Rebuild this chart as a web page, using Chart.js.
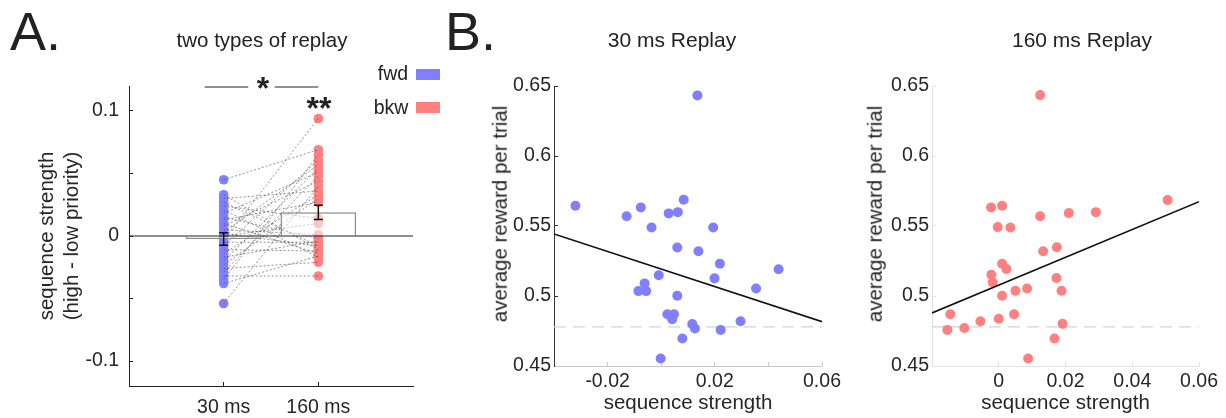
<!DOCTYPE html>
<html lang="en">
<head>
<meta charset="UTF-8">
<title>Replay sequence strength</title>
<script src="https://cdn.jsdelivr.net/npm/chart.js"></script>
<style>
  body { margin: 0; background: #fff; }
  #figure {
    position: relative; width: 1226px; height: 418px; overflow: hidden;
    font-family: 'Liberation Sans', Arial, sans-serif; color: #222;
  }
  #figure canvas { position: absolute; top: 0; }
  .txt { position: absolute; white-space: nowrap; line-height: 1; transform: translate(-50%, -50%); }
  .letter { position: absolute; font-size: 54px; line-height: 1; }
  .ylab { position: absolute; white-space: nowrap; line-height: 1; font-size: 20.5px;
          transform: translate(-50%, -50%) rotate(-90deg); }
  .swatch { position: absolute; width: 24px; height: 11px; }
  .star { position: absolute; line-height: 1; font-size: 32px; font-weight: bold; transform: translate(-50%, -50%); }
</style>
</head>
<body>
<div id="figure">
  <canvas id="chartA" width="460" height="418" style="left:0"></canvas>
  <canvas id="chart30" width="400" height="418" style="left:460px"></canvas>
  <canvas id="chart160" width="386" height="418" style="left:840px"></canvas>

  <div class="letter" style="left:10px; top:4px">A.</div>
  <div class="letter" style="left:445px; top:4px">B.</div>

  <div class="txt" style="left:262px; top:40px; font-size:20.5px">two types of replay</div>
  <div class="txt" style="left:672px; top:39px; font-size:21px">30 ms Replay</div>
  <div class="txt" style="left:1082px; top:39px; font-size:21px">160 ms Replay</div>

  <div class="txt" style="left:393px; top:74px; font-size:19.5px">fwd</div>
  <div class="swatch" style="left:416px; top:69px; background:#8080ff"></div>
  <div class="txt" style="left:391px; top:108px; font-size:19.5px">bkw</div>
  <div class="swatch" style="left:416px; top:102px; background:#ff8080"></div>

  <div class="star" style="left:263px; top:88px">*</div>
  <div class="star" style="left:319px; top:108px">**</div>

  <div class="ylab" style="left:500px; top:214px">average reward per trial</div>
  <div class="ylab" style="left:875px; top:214px">average reward per trial</div>
</div>

<script>
// panel A: high - low priority sequence strength, one value per subject (same order in both lists)
const conditions = ['30 ms', '160 ms'];
const conditionX = [1, 2];
const fwdStrength = [0.045, 0.033, 0.030, 0.027, 0.024, 0.021, 0.018, 0.015, 0.013, 0.010,
                     0.008, 0.005, 0.003, 0.000, -0.003, -0.005, -0.008, -0.011, -0.014, -0.017,
                     -0.020, -0.023, -0.026, -0.029, -0.032, -0.035, -0.038, -0.054, 0.002];
const bkwStrength = [0.069, -0.011, 0.036, -0.008, 0.014, -0.017, 0.051, -0.002, 0.027, -0.014,
                     0.044, 0.001, 0.057, 0.010, 0.094, -0.005, 0.061, -0.012, 0.033, -0.004,
                     0.054, 0.030, -0.021, 0.048, -0.032, 0.065, -0.016, 0.040, -0.008];
const barMeans = [-0.0024, 0.019];
const barSem = [0.005, 0.0057];
const strengthTicksA = [-0.1, -0.05, 0, 0.05, 0.1];
const strengthLabelsA = ['-0.1', '', '0', '', '0.1'];
// significance bracket between the two conditions
const bracketX = [[0.8, 1.26], [1.54, 2.0]];
const bracketY = 0.1192;

// panel B: reward vs sequence strength
const strength30 = [-0.032, -0.0129, -0.0076, -0.0036, 0.0028, 0.0062, 0.0084, 0.0135, 0.0194, 0.006,
                    0.0139, 0.0219, -0.0009, 0.0199, 0.0438, 0.0354, -0.0062, -0.0085, -0.0056, 0.006,
                    0.0023, 0.0048, 0.0041, 0.0116, 0.0126, 0.0222, 0.0296, 0.0079, -0.0002];
const reward30 = [0.5645, 0.557, 0.5633, 0.5489, 0.559, 0.5599, 0.5688, 0.6433, 0.5489, 0.5346,
                  0.532, 0.5231, 0.5148, 0.5126, 0.5191, 0.5054, 0.509, 0.5035, 0.5035, 0.5002,
                  0.487, 0.487, 0.4834, 0.48, 0.4768, 0.4758, 0.482, 0.4696, 0.4553];
const strength160 = [0.0124, -0.0023, 0.001, -0.0003, 0.0035, 0.0124, 0.021, 0.0291, 0.0506, 0.0133,
                     0.0174, 0.001, 0.0023, -0.0022, -0.0018, 0.0173, 0.005, 0.0085, 0.0188, 0.001,
                     -0.0145, 0.0046, -0.0055, 0, -0.0103, -0.0154, 0.0191, 0.0167, 0.0088];
const reward160 = [0.6435, 0.5633, 0.5645, 0.5492, 0.5489, 0.557, 0.5592, 0.5599, 0.5685, 0.532,
                   0.5348, 0.5231, 0.5193, 0.5152, 0.5097, 0.5128, 0.5038, 0.5054, 0.5038, 0.5002,
                   0.487, 0.487, 0.482, 0.4837, 0.4772, 0.4758, 0.4801, 0.4696, 0.4553];
const fit30X = [-0.04, 0.06];
const fit30Y = [0.5443, 0.4817];
const fit160X = [-0.02, 0.06];
const fit160Y = [0.4879, 0.5674];
const chanceLevel = 0.478;
const rewardTicks = [0.45, 0.5, 0.55, 0.6, 0.65];
const rewardLabels = ['0.45', '0.5', '0.55', '0.6', '0.65'];
const strengthTicks30 = [-0.02, 0, 0.02, 0.04, 0.06];
const strengthLabels30 = ['-0.02', '', '0.02', '', '0.06'];
const strengthTicks160 = [0, 0.02, 0.04, 0.06];
const strengthLabels160 = ['0', '0.02', '0.04', '0.06'];

const BLUE = '#8080ff';
const RED = '#ff8080';

Chart.defaults.font.family = "'Liberation Sans', Arial, sans-serif";
Chart.defaults.font.size = 19.5;
Chart.defaults.color = '#262626';

const fixedTicks = list => scale => { scale.ticks = list.map(v => ({ value: v })); };
// short tick marks pointing into the plot, no grid lines
const innerTicks = colour => ({
  display: true, drawOnChartArea: false, drawTicks: true, tickLength: -4,
  offset: false, color: colour, tickColor: colour
});

// error bars: vertical stem plus two caps, gaps between pieces
const semSegments = [];
conditionX.forEach((cx, i) => {
  const lo = barMeans[i] - barSem[i], hi = barMeans[i] + barSem[i], w = 0.048;
  semSegments.push({ x: cx, y: lo }, { x: cx, y: hi }, { x: cx, y: null },
                   { x: cx - w, y: lo }, { x: cx + w, y: lo }, { x: cx, y: null },
                   { x: cx - w, y: hi }, { x: cx + w, y: hi }, { x: cx, y: null });
});

// one dashed line per subject from fwd to bkw
const pairSegments = [];
fwdStrength.forEach((f, i) => {
  pairSegments.push({ x: 1, y: f }, { x: 2, y: bkwStrength[i] }, { x: 1.5, y: null });
});

const bracketSegments = [];
bracketX.forEach(([a, b]) => {
  bracketSegments.push({ x: a, y: bracketY }, { x: b, y: bracketY }, { x: b, y: null });
});

new Chart(document.getElementById('chartA'), {
  type: 'scatter',
  data: {
    datasets: [
      { type: 'line', data: semSegments, borderColor: '#111', borderWidth: 1.5,
        pointRadius: 0, spanGaps: false, order: 0 },
      { type: 'line', data: bracketSegments, borderColor: '#222', borderWidth: 1,
        pointRadius: 0, spanGaps: false, clip: false, order: 0 },
      { type: 'line', data: [{ x: 0, y: 0 }, { x: 3, y: 0 }], borderColor: '#222', borderWidth: 1,
        pointRadius: 0, order: 1 },
      { type: 'bar', data: barMeans.map((m, i) => ({ x: conditionX[i], y: m })),
        backgroundColor: 'rgba(255,255,255,0.55)', borderColor: '#8c8c8c', borderWidth: 1.5,
        categoryPercentage: 0.8, barPercentage: 1, order: 2 },
      { type: 'line', data: pairSegments, borderColor: 'rgba(60,60,60,0.7)', borderWidth: 0.8,
        borderDash: [2, 2], pointRadius: 0, spanGaps: false, order: 3 },
      { label: 'fwd', data: fwdStrength.map(v => ({ x: 1, y: v })), backgroundColor: BLUE,
        pointRadius: 4.8, borderWidth: 0, order: 4 },
      { label: 'bkw', data: bkwStrength.map(v => ({ x: 2, y: v })), backgroundColor: RED,
        pointRadius: 4.8, borderWidth: 0, order: 4 }
    ]
  },
  options: {
    responsive: false,
    animation: false,
    layout: { padding: { top: 86, right: 47, left: 0, bottom: 0 } },
    plugins: { legend: { display: false }, tooltip: { enabled: false } },
    scales: {
      x: {
        type: 'linear', min: 0, max: 3, offset: false,
        grid: innerTicks('#222'), border: { color: '#222', width: 1 },
        afterBuildTicks: fixedTicks(conditionX),
        ticks: { padding: 14, callback: (v, i) => conditions[i] },
        afterFit: s => { s.height = 32; }
      },
      y: {
        min: -0.12, max: 0.12,
        grid: innerTicks('#222'), border: { color: '#222', width: 1 },
        afterBuildTicks: fixedTicks(strengthTicksA),
        ticks: { padding: 14, callback: (v, i) => strengthLabelsA[i] },
        title: { display: true, text: ['sequence strength', '(high - low priority)'],
                 font: { size: 20.5 }, padding: { top: 35.5, bottom: 0 } },
        afterFit: s => { s.width = 129; }
      }
    }
  }
});

function rewardChart(id, xs, ys, fitX, fitY, xMin, colour, xTicks, xLabels, yAxisColour, xAxisColour, yWidth, padRight) {
  return new Chart(document.getElementById(id), {
    type: 'scatter',
    data: {
      datasets: [
        { type: 'line', data: fitX.map((x, i) => ({ x, y: fitY[i] })), borderColor: '#111',
          borderWidth: 1.6, pointRadius: 0, order: 0 },
        { data: xs.map((x, i) => ({ x, y: ys[i] })), backgroundColor: colour,
          pointRadius: 5, borderWidth: 0, order: 1 },
        { type: 'line', data: [{ x: xMin, y: chanceLevel }, { x: 0.06, y: chanceLevel }],
          borderColor: '#d4d4d4', borderWidth: 1.3, borderDash: [12, 7], pointRadius: 0, order: 2 }
      ]
    },
    options: {
      responsive: false,
      animation: false,
      layout: { padding: { top: 86, right: padRight, left: 0, bottom: 0 } },
      plugins: { legend: { display: false }, tooltip: { enabled: false } },
      scales: {
        x: {
          type: 'linear', min: xMin, max: 0.06,
          grid: innerTicks(xAxisColour), border: { color: xAxisColour, width: 1 },
          afterBuildTicks: fixedTicks(xTicks),
          ticks: { padding: 8, callback: (v, i) => xLabels[i] },
          title: { display: true, text: 'sequence strength', font: { size: 20.5 },
                   padding: { top: 0, bottom: 2 } },
          afterFit: s => { s.height = 52; }
        },
        y: {
          min: 0.45, max: 0.65,
          grid: innerTicks(yAxisColour), border: { color: yAxisColour, width: 1 },
          afterBuildTicks: fixedTicks(rewardTicks),
          ticks: { padding: 7, callback: (v, i) => rewardLabels[i] },
          afterFit: s => { s.width = yWidth; }
        }
      }
    }
  });
}

rewardChart('chart30', strength30, reward30, fit30X, fit30Y, -0.04, BLUE,
            strengthTicks30, strengthLabels30, '#333', '#c8c8c8', 94, 38);
rewardChart('chart160', strength160, reward160, fit160X, fit160Y, -0.02, RED,
            strengthTicks160, strengthLabels160, '#e2e2e2', '#e2e2e2', 92, 24);
</script>
</body>
</html>
